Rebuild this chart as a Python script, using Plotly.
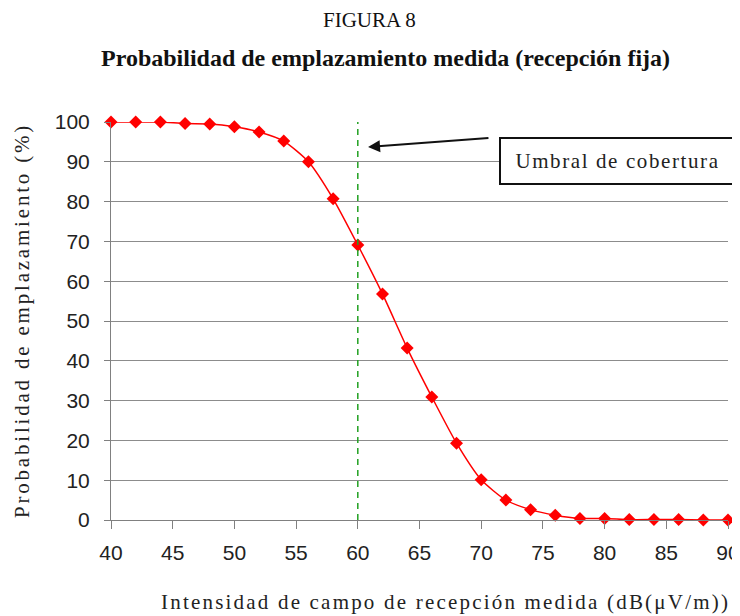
"""Probabilidad de emplazamiento medida (recepcion fija) - FIGURA 8."""
import plotly.graph_objects as go

# field strength (dB(uV/m)) and measured location probability (%)
field_strength = [40, 42, 44, 46, 48, 50, 52, 54, 56, 58, 60, 62, 64,
                  66, 68, 70, 72, 74, 76, 78, 80, 82, 84, 86, 88, 90]
location_prob = [100, 100, 100, 99.6, 99.5, 98.8, 97.5, 95.2, 90.0, 80.7,
                 69.1, 56.8, 43.2, 30.9, 19.3, 10.1, 5.0, 2.6, 1.2, 0.4,
                 0.4, 0.1, 0.1, 0.1, 0.0, 0.0]
coverage_threshold = 60
x_ticks = [40, 45, 50, 55, 60, 65, 70, 75, 80, 85, 90]
y_ticks = [0, 10, 20, 30, 40, 50, 60, 70, 80, 90, 100]

serif = "Liberation Serif, Times New Roman, serif"
sans = "Liberation Sans, Arial, sans-serif"


def spaced(text, px):
    # the original uses loosely tracked serif text
    return f'<span style="letter-spacing:{px}px">{text}</span>'


fig = go.Figure()
fig.add_trace(go.Scatter(x=field_strength, y=location_prob, mode='lines+markers',
                         line=dict(color='#ff0000', width=1.5, shape='spline', smoothing=0.6),
                         marker=dict(symbol='diamond', size=10, color='#ff0000'),
                         cliponaxis=False, showlegend=False))

# coverage threshold line
fig.add_shape(type='line', x0=coverage_threshold, x1=coverage_threshold, y0=0, y1=101,
              xref='x', yref='y', line=dict(color='#22a022', width=1.5, dash='6px,5px'))

# the page has an 8px body margin, so the figure is shrunk by 8px to fit the window
fig.update_layout(
    width=732, height=608,
    margin=dict(l=103, r=12, t=114, b=96),
    paper_bgcolor='white', plot_bgcolor='white',
    xaxis=dict(range=[40, 90], tickvals=x_ticks, showgrid=False, showline=True,
               linecolor='#808080', linewidth=1, ticks='outside', ticklen=8,
               tickcolor='#808080', tickfont=dict(family=sans, size=21, color='#222'),
               ticklabelstandoff=6, automargin=False, zeroline=False),
    yaxis=dict(range=[0, 100], tickvals=y_ticks, showgrid=True, gridcolor='#8c8c8c',
               gridwidth=1, showline=True, linecolor='#808080', linewidth=1,
               ticks='outside', ticklen=6, tickcolor='#808080',
               tickfont=dict(family=sans, size=21, color='#222'),
               ticklabelstandoff=10, automargin=False, zeroline=False),
)

# figure titles
fig.add_annotation(text='FIGURA 8', xref='paper', yref='paper', x=0.5, y=1.0,
                   yanchor='middle', yshift=102, xshift=-50, showarrow=False,
                   font=dict(family=serif, size=21, color='#111'))
fig.add_annotation(text='<b>Probabilidad de emplazamiento medida (recepción fija)</b>',
                   xref='paper', yref='paper', x=0.5, y=1.0, yanchor='middle', yshift=64,
                   xshift=-34, showarrow=False, font=dict(family=serif, size=24, color='#111'))

# axis titles
fig.add_annotation(text=spaced('Intensidad de campo de recepción medida (dB(μV/m))', 2.2),
                   xref='paper', yref='paper', x=0.5, y=0, yanchor='middle', yshift=-82,
                   xshift=26, showarrow=False, font=dict(family=serif, size=21, color='#222'))
fig.add_annotation(text=spaced('Probabilidad de emplazamiento (%)', 2.8), textangle=-90,
                   xref='paper', yref='paper', x=0, y=0.5, xanchor='center', yanchor='middle',
                   xshift=-89, yshift=0, showarrow=False,
                   font=dict(family=serif, size=21, color='#222'))

# label box and arrow
fig.add_annotation(text=spaced('Umbral de cobertura', 1.6), xref='paper', yref='paper',
                   x=0.8209, y=0.902, xanchor='center', yanchor='middle', showarrow=False,
                   bordercolor='#111', borderwidth=2, borderpad=0, bgcolor='white',
                   width=233, height=44, font=dict(family=serif, size=21, color='#222'))
fig.add_annotation(x=60.83, y=93.7, ax=70.71, ay=96.0, axref='x', ayref='y',
                   xref='x', yref='y', showarrow=True, arrowhead=2, arrowsize=1.2,
                   arrowwidth=2, arrowcolor='#111', text='')

fig.write_html("out.html")
